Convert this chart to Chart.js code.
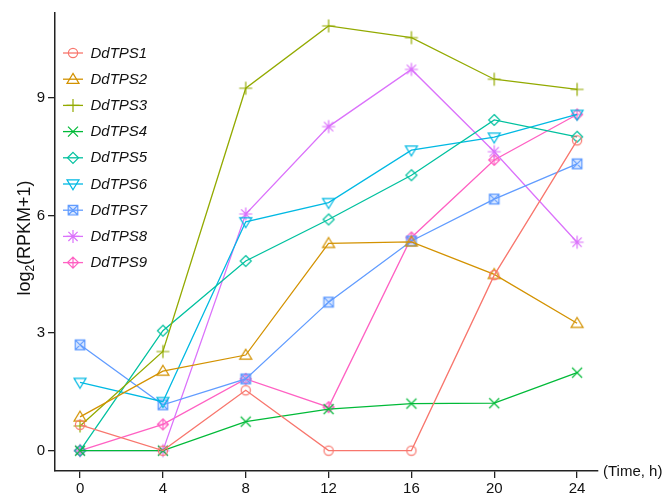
<!DOCTYPE html>
<html>
<head>
<meta charset="utf-8">
<script src="https://cdn.jsdelivr.net/npm/chart.js@4"></script>
<style>
  html, body { margin: 0; padding: 0; background: #fff; }
  #wrap { width: 662px; height: 495px; }
</style>
</head>
<body>
<div id="wrap"><canvas id="c" width="662" height="495"></canvas></div>
<script>
// ---- data ----
const timePoints = [0, 4, 8, 12, 16, 20, 24];
const xTicks = [0, 4, 8, 12, 16, 20, 24];
const yTicks = [0, 3, 6, 9];
const seriesNames = ['DdTPS1','DdTPS2','DdTPS3','DdTPS4','DdTPS5','DdTPS6','DdTPS7','DdTPS8','DdTPS9'];
const DdTPS1 = [0.66, 0.00, 1.54, 0.00, 0.00, 4.48, 7.92];
const DdTPS2 = [0.86, 2.03, 2.44, 5.29, 5.33, 4.50, 3.25];
const DdTPS3 = [0.63, 2.53, 9.25, 10.84, 10.54, 9.48, 9.22];
const DdTPS4 = [0.00, 0.00, 0.74, 1.06, 1.20, 1.21, 1.99];
const DdTPS5 = [0.00, 3.06, 4.84, 5.90, 7.03, 8.44, 8.01];
const DdTPS6 = [1.74, 1.25, 5.84, 6.33, 7.67, 8.00, 8.58];
const DdTPS7 = [2.70, 1.17, 1.83, 3.79, 5.35, 6.42, 7.32];
const DdTPS8 = [0.00, 0.00, 6.04, 8.27, 9.73, 7.63, 5.32];
const DdTPS9 = [0.00, 0.67, 1.83, 1.11, 5.44, 7.42, 8.58];
const seriesValues = [DdTPS1, DdTPS2, DdTPS3, DdTPS4, DdTPS5, DdTPS6, DdTPS7, DdTPS8, DdTPS9];

// ---- styles ----
const colors = ['#F8766D','#D39200','#93AA00','#00BA38','#00C19F','#00B9E3','#619CFF','#DB72FB','#FF61C3'];
const markers = ['circle','triUp','plus','cross','diamond','triDown','boxX','star','diamondPlus'];

function drawMarker(ctx, style, cx, cy, color) {
  ctx.save();
  ctx.strokeStyle = color;
  ctx.lineWidth = 1.2;
  ctx.beginPath();
  const s = 5.5;
  switch (style) {
    case 'circle':
      ctx.arc(cx, cy, 4.6, 0, Math.PI * 2);
      break;
    case 'triUp':
      ctx.moveTo(cx, cy - 5.8); ctx.lineTo(cx + 6, cy + 4.2); ctx.lineTo(cx - 6, cy + 4.2); ctx.closePath();
      break;
    case 'triDown':
      ctx.moveTo(cx, cy + 5.8); ctx.lineTo(cx + 6, cy - 4.2); ctx.lineTo(cx - 6, cy - 4.2); ctx.closePath();
      break;
    case 'plus':
      ctx.moveTo(cx - 6.5, cy); ctx.lineTo(cx + 6.5, cy); ctx.moveTo(cx, cy - 6.5); ctx.lineTo(cx, cy + 6.5);
      break;
    case 'cross':
      ctx.moveTo(cx - 5, cy - 5); ctx.lineTo(cx + 5, cy + 5); ctx.moveTo(cx + 5, cy - 5); ctx.lineTo(cx - 5, cy + 5);
      break;
    case 'diamond':
      ctx.moveTo(cx, cy - s); ctx.lineTo(cx + s, cy); ctx.lineTo(cx, cy + s); ctx.lineTo(cx - s, cy); ctx.closePath();
      break;
    case 'diamondPlus':
      ctx.moveTo(cx, cy - s); ctx.lineTo(cx + s, cy); ctx.lineTo(cx, cy + s); ctx.lineTo(cx - s, cy); ctx.closePath();
      ctx.moveTo(cx - s, cy); ctx.lineTo(cx + s, cy); ctx.moveTo(cx, cy - s); ctx.lineTo(cx, cy + s);
      break;
    case 'boxX':
      ctx.rect(cx - 4.8, cy - 4.8, 9.6, 9.6);
      ctx.moveTo(cx - 4.8, cy - 4.8); ctx.lineTo(cx + 4.8, cy + 4.8); ctx.moveTo(cx + 4.8, cy - 4.8); ctx.lineTo(cx - 4.8, cy + 4.8);
      ctx.fillStyle = color + '40';
      ctx.fillRect(cx - 4.8, cy - 4.8, 9.6, 9.6);
      break;
    case 'star':
      ctx.moveTo(cx - 6.5, cy); ctx.lineTo(cx + 6.5, cy); ctx.moveTo(cx, cy - 6.5); ctx.lineTo(cx, cy + 6.5);
      ctx.moveTo(cx - 4.6, cy - 4.6); ctx.lineTo(cx + 4.6, cy + 4.6); ctx.moveTo(cx + 4.6, cy - 4.6); ctx.lineTo(cx - 4.6, cy + 4.6);
      break;
  }
  ctx.stroke();
  ctx.restore();
}

function makeMarkerCanvas(style, color) {
  const c = document.createElement('canvas');
  c.width = 16; c.height = 16;
  drawMarker(c.getContext('2d'), style, 8, 8, color);
  return c;
}

const datasets = seriesNames.map((name, i) => ({
  label: name,
  data: timePoints.map((t, j) => ({ x: t, y: seriesValues[i][j] })),
  borderColor: colors[i],
  backgroundColor: colors[i],
  borderWidth: 1.3,
  pointStyle: makeMarkerCanvas(markers[i], colors[i]),
  pointRadius: 6,
  tension: 0,
  fill: false,
  clip: false
}));

const FONT = '"Liberation Sans", Arial, Helvetica, sans-serif';

const extrasPlugin = {
  id: 'extras',
  afterDraw(chart) {
    const ctx = chart.ctx;
    ctx.save();
    // legend
    const lx0 = 63, lx1 = 83, mx = 73, tx = 90.5, y0 = 53, dy = 26.2;
    ctx.font = 'italic 15px ' + FONT;
    ctx.textBaseline = 'middle';
    ctx.textAlign = 'left';
    seriesNames.forEach((name, i) => {
      const y = y0 + i * dy;
      ctx.strokeStyle = colors[i];
      ctx.lineWidth = 1.3;
      ctx.beginPath(); ctx.moveTo(lx0, y); ctx.lineTo(lx1, y); ctx.stroke();
      drawMarker(ctx, markers[i], mx, y, colors[i]);
      ctx.fillStyle = '#111';
      ctx.fillText(name, tx, y + 0.5);
    });
    // y-axis title with subscript
    ctx.save();
    ctx.translate(30, 238);
    ctx.rotate(-Math.PI / 2);
    ctx.fillStyle = '#111';
    ctx.textBaseline = 'alphabetic';
    const big = '18px ' + FONT, small = '12px ' + FONT;
    ctx.font = big; const w1 = ctx.measureText('log').width; const w3 = ctx.measureText('(RPKM+1)').width;
    ctx.font = small; const w2 = ctx.measureText('2').width;
    const total = w1 + w2 + w3;
    let x = -total / 2;
    ctx.font = big; ctx.fillText('log', x, 0); x += w1;
    ctx.font = small; ctx.fillText('2', x, 4); x += w2;
    ctx.font = big; ctx.fillText('(RPKM+1)', x, 0);
    ctx.restore();
    // x-axis title at the end of axis
    ctx.font = '15px ' + FONT;
    ctx.fillStyle = '#111';
    ctx.textBaseline = 'middle';
    ctx.fillText('(Time, h)', 603, chart.chartArea.bottom + 0.5);
    ctx.restore();
  }
};

new Chart(document.getElementById('c'), {
  type: 'line',
  data: { datasets },
  options: {
    responsive: false,
    animation: false,
    events: [],
    layout: { padding: { left: 0, top: 13, right: 64, bottom: 0 } },
    plugins: { legend: { display: false }, tooltip: { enabled: false } },
    scales: {
      x: {
        type: 'linear',
        min: -1.21, max: 25.01,
        afterBuildTicks: (axis) => { axis.ticks = xTicks.map(v => ({ value: v })); },
        afterFit: (axis) => { axis.height = 24; },
        grid: { drawOnChartArea: false, drawTicks: true, tickLength: 7, color: '#222', lineWidth: 1.3 },
        border: { display: true, color: '#222', width: 1.5 },
        ticks: { color: '#111', font: { family: FONT, size: 15 }, padding: 2, maxRotation: 0, autoSkip: false }
      },
      y: {
        type: 'linear',
        min: -0.52, max: 11.17,
        afterBuildTicks: (axis) => { axis.ticks = yTicks.map(v => ({ value: v })); },
        afterFit: (axis) => { axis.width = 55; },
        grid: { drawOnChartArea: false, drawTicks: true, tickLength: 7, color: '#222', lineWidth: 1.3 },
        border: { display: true, color: '#222', width: 1.5 },
        ticks: { color: '#111', font: { family: FONT, size: 15 }, padding: 3, autoSkip: false }
      }
    }
  },
  plugins: [extrasPlugin]
});
</script>
</body>
</html>
